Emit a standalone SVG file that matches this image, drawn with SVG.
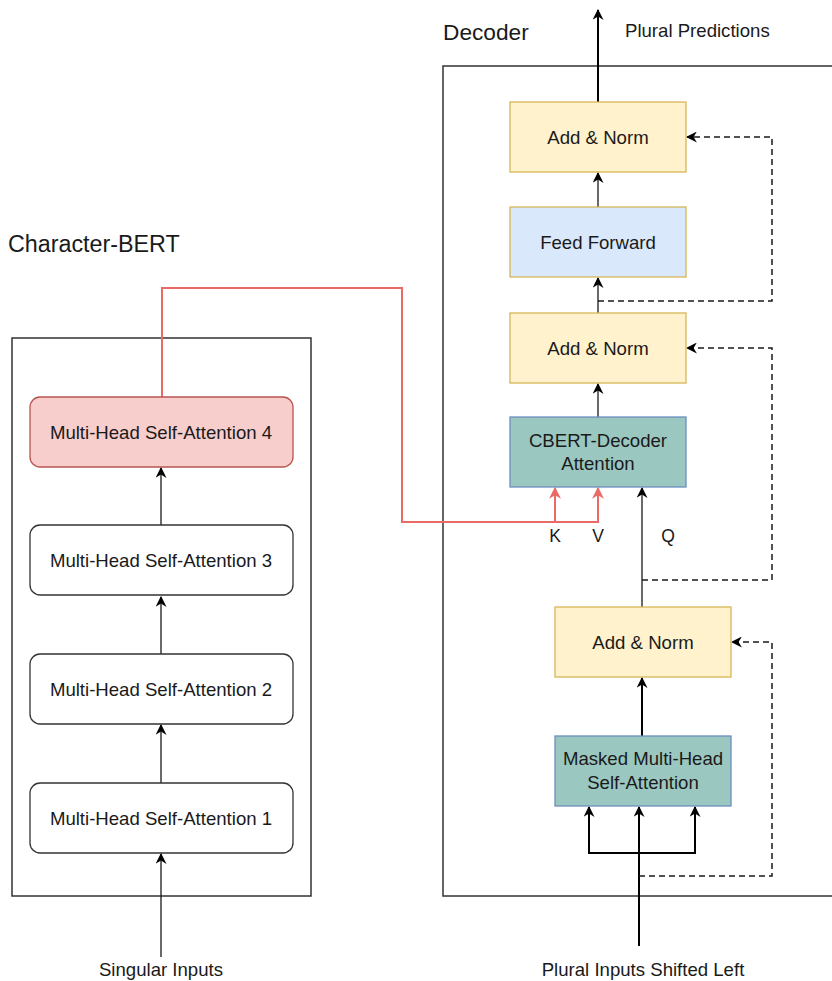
<svg xmlns="http://www.w3.org/2000/svg" width="832" height="981" viewBox="0 0 832 981">
<defs>
<style>
text{font-family:"Liberation Sans",Arial,sans-serif;fill:#1a1a1a}
.lbl{font-size:18.6px;text-anchor:middle}
.yel{fill:#fff2cc;stroke:#d6b656;stroke-width:1.3}
.blu{fill:#dae8fc;stroke:#d6b656;stroke-width:1.3}
.teal{fill:#9ac7bf;stroke:#6c8ebf;stroke-width:1.3}
.wht{fill:#ffffff;stroke:#333333;stroke-width:1.3}
.red{fill:#f8cecc;stroke:#b85450;stroke-width:1.3}
.cont{fill:none;stroke:#333333;stroke-width:1.5}
.ln{fill:none;stroke:#1a1a1a;stroke-width:1.3}
.thk{fill:none;stroke:#000000;stroke-width:2}
.dash{fill:none;stroke:#1a1a1a;stroke-width:1.5;stroke-dasharray:6 4}
.rl{fill:none;stroke:#ea6b66;stroke-width:2}
</style>
<marker id="ah" viewBox="0 0 10 10" refX="9" refY="5" markerWidth="11" markerHeight="11" markerUnits="userSpaceOnUse" orient="auto">
<path d="M0,0 L10,5 L0,10 L3,5 z" fill="#000"/>
</marker>
<marker id="ahr" viewBox="0 0 10 10" refX="9" refY="5" markerWidth="12" markerHeight="12" markerUnits="userSpaceOnUse" orient="auto">
<path d="M0,0 L10,5 L0,10 L3,5 z" fill="#ea6b66"/>
</marker>
</defs>
<rect width="832" height="981" fill="#ffffff"/>

<g id="containers">
<rect class="cont" x="12" y="338" width="299" height="558"/>
<rect class="cont" x="443" y="66" width="400" height="830"/>
<text x="8" y="252" style="font-size:23.3px">Character-BERT</text>
<text x="443" y="40" style="font-size:22.7px">Decoder</text>
</g>

<g id="connectors">
<path class="thk" d="M598,102 V10" marker-end="url(#ah)"/>
<path class="ln" d="M598,207 V173" marker-end="url(#ah)"/>
<path class="ln" d="M598,313 V278" marker-end="url(#ah)"/>
<path class="ln" d="M598,417 V384" marker-end="url(#ah)"/>
<path class="ln" d="M642,607 V488" marker-end="url(#ah)"/>
<path class="thk" d="M642,736 V678" marker-end="url(#ah)"/>
<path class="thk" d="M639,946 V807" marker-end="url(#ah)"/>
<path class="thk" d="M639,853 H589 V807" marker-end="url(#ah)"/>
<path class="thk" d="M639,853 H695 V807" marker-end="url(#ah)"/>
<path class="dash" d="M598,301 H772 V137 H687" marker-end="url(#ah)"/>
<path class="dash" d="M642,580 H772 V348 H687" marker-end="url(#ah)"/>
<path class="dash" d="M639,876 H772 V642 H732" marker-end="url(#ah)"/>
<path class="rl" d="M162,397 V288 H402 V522 H598 V488" marker-end="url(#ahr)"/>
<path class="rl" d="M555,522 V488" marker-end="url(#ahr)"/>
<path class="ln" d="M161,525 V468" marker-end="url(#ah)"/>
<path class="ln" d="M161,654 V597" marker-end="url(#ah)"/>
<path class="ln" d="M161,783 V725" marker-end="url(#ah)"/>
<path class="ln" d="M161,957 V854" marker-end="url(#ah)"/>
</g>

<g id="addnorm-top"><rect class="yel" x="510" y="102" width="176" height="70"/><text class="lbl" x="598" y="144">Add &amp; Norm</text></g>
<g id="feedforward"><rect class="blu" x="510" y="207" width="176" height="70"/><text class="lbl" x="598" y="249">Feed Forward</text></g>
<g id="addnorm-mid"><rect class="yel" x="510" y="313" width="176" height="70"/><text class="lbl" x="598" y="355">Add &amp; Norm</text></g>
<g id="cbert-attn"><rect class="teal" x="510" y="417" width="176" height="70"/><text class="lbl" x="598" y="447">CBERT-Decoder</text><text class="lbl" x="598" y="470">Attention</text></g>
<g id="addnorm-bot"><rect class="yel" x="555" y="607" width="176" height="70"/><text class="lbl" x="643" y="649">Add &amp; Norm</text></g>
<g id="masked-attn"><rect class="teal" x="555" y="736" width="176" height="70"/><text class="lbl" x="643" y="765">Masked Multi-Head</text><text class="lbl" x="643" y="789">Self-Attention</text></g>

<g id="mhsa4"><rect class="red" x="30" y="397" width="263" height="70" rx="10"/><text class="lbl" x="161" y="439">Multi-Head Self-Attention 4</text></g>
<g id="mhsa3"><rect class="wht" x="30" y="525" width="263" height="70" rx="10"/><text class="lbl" x="161" y="567">Multi-Head Self-Attention 3</text></g>
<g id="mhsa2"><rect class="wht" x="30" y="654" width="263" height="70" rx="10"/><text class="lbl" x="161" y="696">Multi-Head Self-Attention 2</text></g>
<g id="mhsa1"><rect class="wht" x="30" y="783" width="263" height="70" rx="10"/><text class="lbl" x="161" y="825">Multi-Head Self-Attention 1</text></g>

<g id="labels">
<text x="625" y="37" style="font-size:18.6px">Plural Predictions</text>
<text class="lbl" x="555" y="542" style="font-size:17.5px">K</text>
<text class="lbl" x="598" y="542" style="font-size:17.5px">V</text>
<text class="lbl" x="668" y="542" style="font-size:17.5px">Q</text>
<text class="lbl" x="161" y="976">Singular Inputs</text>
<text class="lbl" x="643" y="976">Plural Inputs Shifted Left</text>
</g>
</svg>
